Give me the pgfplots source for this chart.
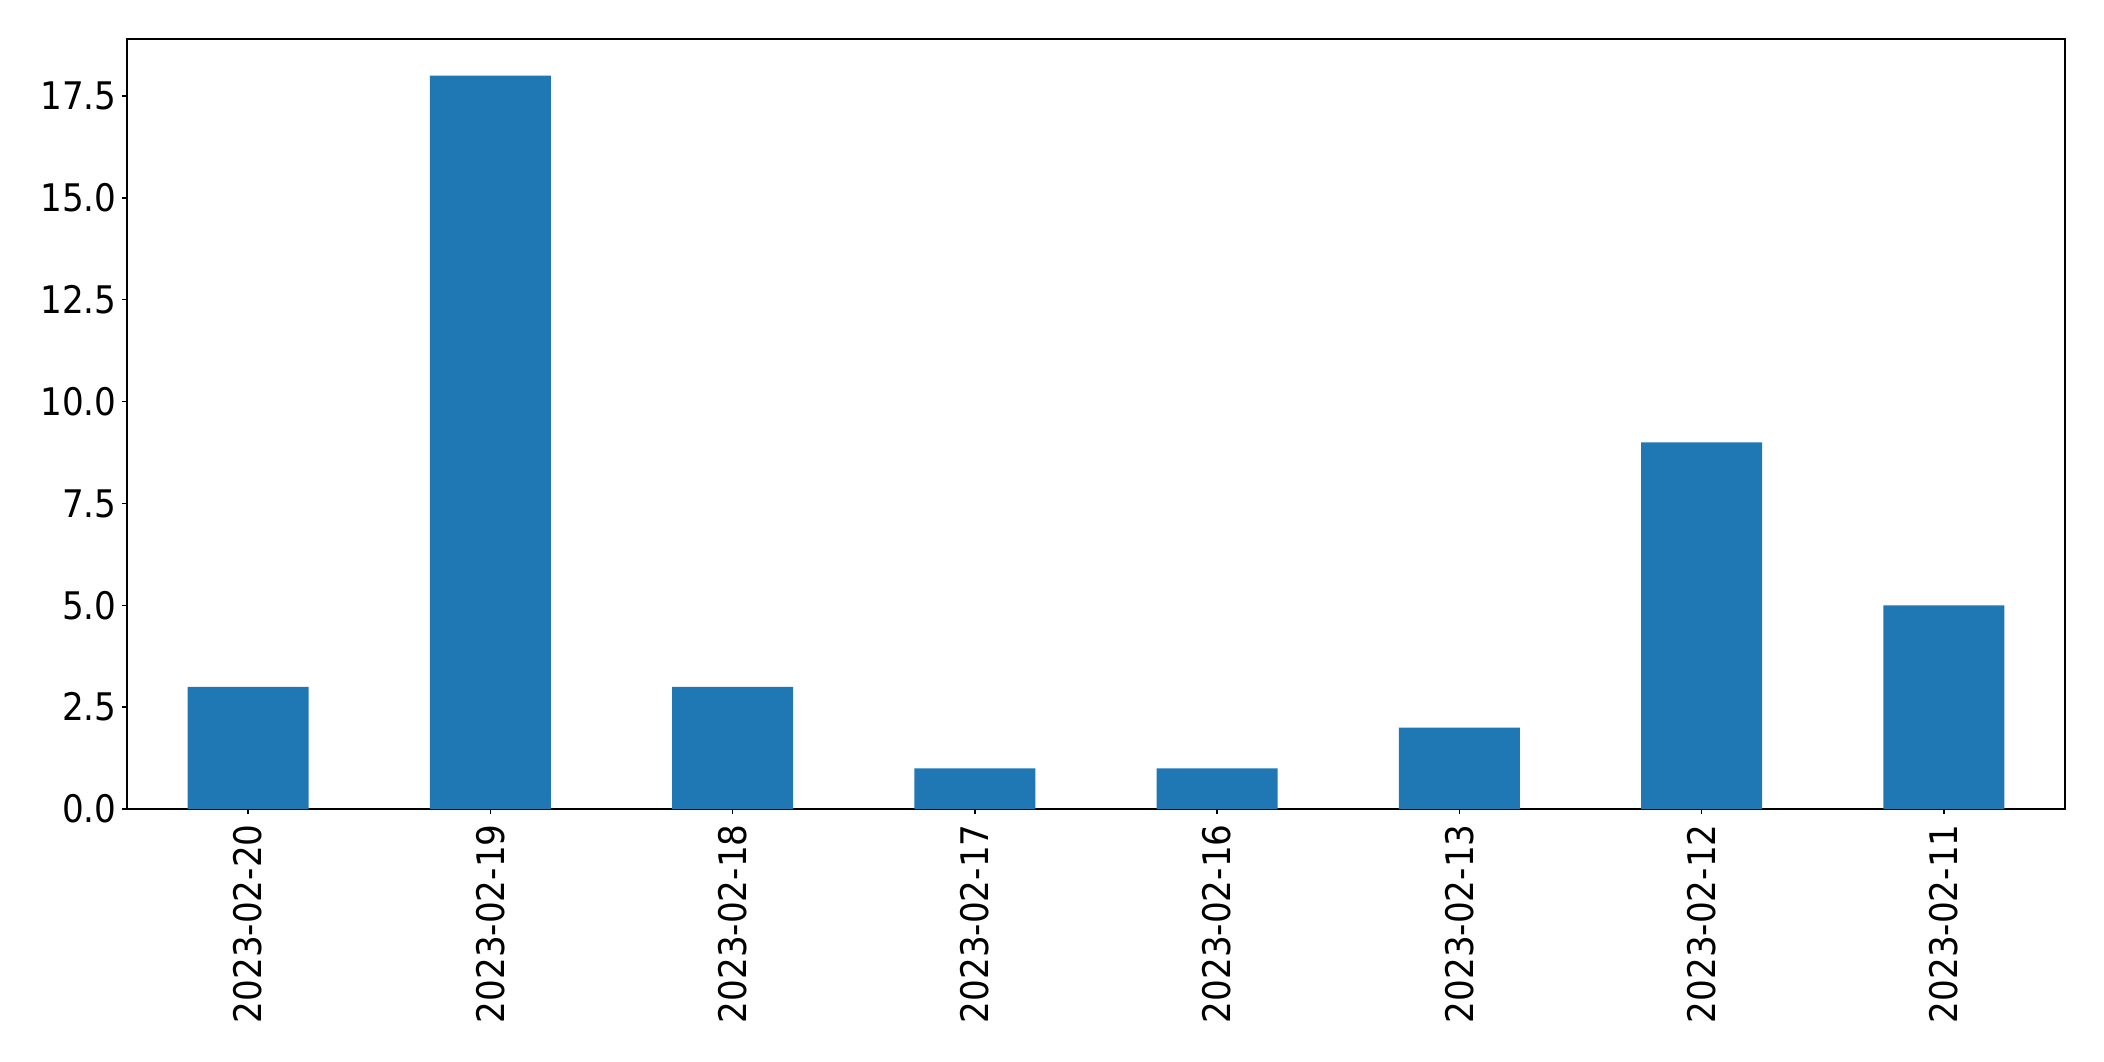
\documentclass[border=0pt]{standalone}
\usepackage{fontspec}
\setmainfont{DejaVu Sans Condensed}
\usepackage{pgfplots}
\pgfplotsset{compat=1.18}
\usetikzlibrary{calc}
\definecolor{mplblue}{HTML}{1F77B4}
\begin{document}
\fontsize{19pt}{23pt}\selectfont
\begin{tikzpicture}
\begin{axis}[
    scale only axis,
    width=969pt, height=385pt,
    xmin=-0.5, xmax=7.5,
    ymin=0, ymax=18.9,
    axis line style={line width=0.73pt},
    tick style={line width=0.73pt, black},
    major tick length=2.5pt,
    tick align=outside,
    xtick pos=bottom, ytick pos=left,
    xtick=data,
    xticklabels={2023-02-20,2023-02-19,2023-02-18,2023-02-17,2023-02-16,2023-02-13,2023-02-12,2023-02-11},
    x tick label style={rotate=90, anchor=east, inner sep=0pt, xshift=-5pt, font=\fontsize{19pt}{23pt}\selectfont},
    ytick={0,2.5,5,7.5,10,12.5,15,17.5},
    y tick label style={anchor=east, inner sep=0pt, xshift=-2.5pt, font=\fontsize{19pt}{23pt}\selectfont},
    /pgf/number format/assume math mode=true,
    yticklabel style={/pgf/number format/.cd, fixed, fixed zerofill, precision=1},
]
\addplot[ybar, bar width=0.5, fill=mplblue, draw=none] coordinates {
    (0,3) (1,18) (2,3) (3,1) (4,1) (5,2) (6,9) (7,5)
};
\end{axis}
\pgfresetboundingbox
\path[use as bounding box] ($(current axis.south west)+(-63.5pt,-126pt)$) rectangle ($(current axis.north east)+(19.5pt,19.5pt)$);
\end{tikzpicture}
\end{document}
